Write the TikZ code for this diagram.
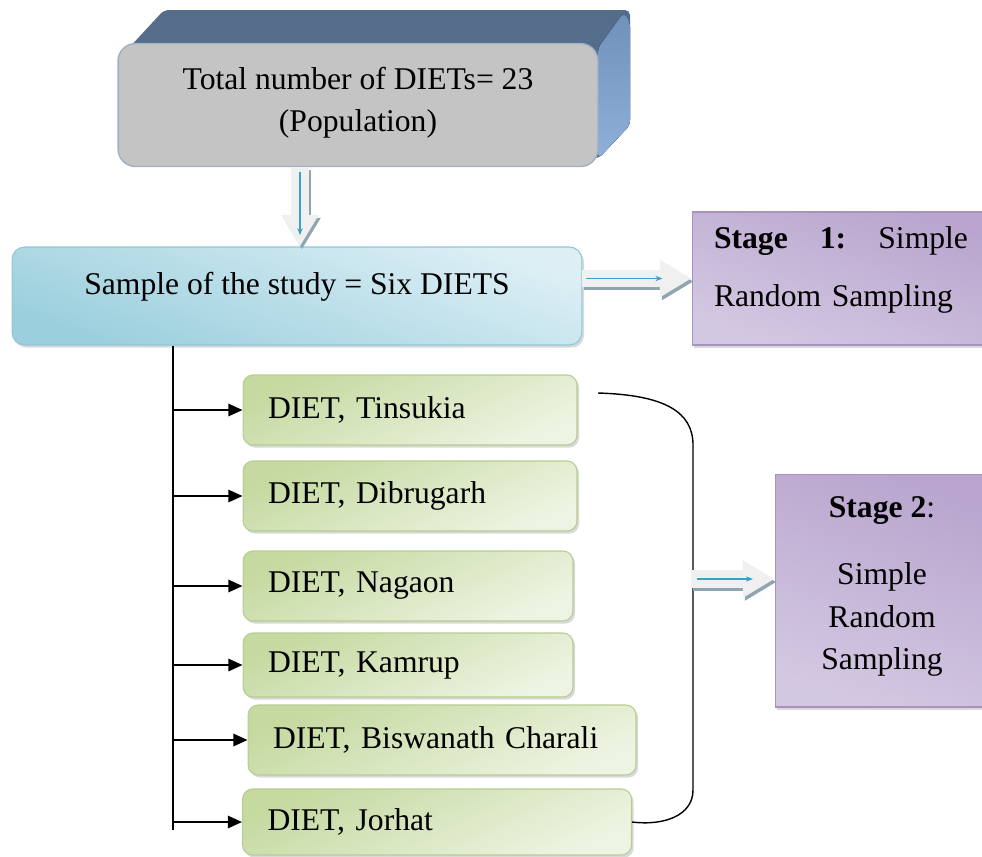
\documentclass[tikz,border=0pt]{standalone}
\usepackage{fontspec}
\setmainfont{Liberation Serif}
\usetikzlibrary{arrows.meta,shadows}

\definecolor{topfront}{HTML}{C4C4C4}
\definecolor{topedge}{HTML}{9FB0C4}
\definecolor{topdark}{HTML}{566C8B}
\definecolor{sideA}{HTML}{6F90BA}
\definecolor{sideB}{HTML}{8FB0D8}
\definecolor{blueA}{HTML}{DDEFF5}
\definecolor{blueB}{HTML}{9BCFDD}
\definecolor{blueedge}{HTML}{8FC7D6}
\definecolor{greenA}{HTML}{C5D9A0}
\definecolor{greenB}{HTML}{EEF4E3}
\definecolor{greenedge}{HTML}{B7CD90}
\definecolor{purpA}{HTML}{B9A5CE}
\definecolor{purpB}{HTML}{EAE5F1}
\definecolor{purpC}{HTML}{D3C8E2}
\definecolor{purpedge}{HTML}{A793BE}
\definecolor{arrowfill}{HTML}{F0F0F0}
\definecolor{arrowshade}{HTML}{8FA5AF}
\definecolor{arrowblue}{HTML}{3AA2C8}

\begin{document}
\begin{tikzpicture}[x=0.02cm,y=-0.02cm,
  every node/.style={font=\fontsize{18}{24}\selectfont},
  sh/.style={drop shadow={shadow xshift=1.2pt,shadow yshift=-1.5pt,opacity=0.3}},
  greenbox/.style={sh,draw=greenedge,line width=0.6pt,rounded corners=0.2cm,
    top color=greenA,bottom color=greenB,shading angle=25,inner xsep=0.5cm,align=left},
  stagebox/.style={sh,draw=purpedge,line width=0.6pt,left color=purpA,
    middle color=purpB,right color=purpC,shading angle=-20},
  fatarrow/.style={line width=10pt,draw=arrowfill,-{Triangle[length=18pt,width=20pt]}},
  fatshadow/.style={fatarrow,draw=arrowshade,transform canvas={shift={(2,3)}}},
  thinarrow/.style={draw=arrowblue,line width=0.6pt,-{Stealth[length=4pt,width=3pt]}},
  link/.style={line width=1.1pt,-{Triangle[length=8pt,width=7pt]}}]
  \useasboundingbox (0,0) rectangle (982,856);

  % 3d block behind the population box
  \fill[topdark,rounded corners=0.1cm] (127,50) -- (164,10) -- (630,10) -- (630,125) -- (598,159) -- cycle;
  \fill[top color=sideA,bottom color=sideB,rounded corners=0.1cm] (598,48) -- (624,12) -- (630,22) -- (630,125) -- (598,159) -- cycle;
  \node[fill=topfront,draw=topedge,line width=0.8pt,rounded corners=0.35cm,
    minimum width=9.6cm,minimum height=2.46cm,align=center] (top) at (358,105)
    {Total number of DIETs= 23\\(Population)\rule[-0.24cm]{0pt}{0pt}};

  \node[sh,draw=blueedge,line width=0.6pt,rounded corners=0.25cm,top color=blueA,
    bottom color=blueB,shading angle=-20,minimum width=11.4cm,minimum height=1.96cm]
    (sample) at (297,296) {Sample of the study = Six DIETS\rule[-0.52cm]{0pt}{0pt}};

  \node[stagebox,text width=5.08cm,inner xsep=0.44cm,minimum height=2.66cm,align=left,
    font=\fontsize{18}{33}\selectfont] (stageone) at (841,278.5)
    {\textbf{Stage}\hfill\textbf{1:}\hfill Simple\\ Random Sampling\rule[-0.48cm]{0pt}{0pt}};
  \node[stagebox,minimum width=4.28cm,minimum height=4.66cm,align=center] (stagetwo) at (882,590.5)
    {\textbf{Stage 2}:\\[0.5cm] Simple\\ Random\\ Sampling\rule[-0.3cm]{0pt}{0pt}};

  % trunk and the six DIETs
  \coordinate (trunkend) at (173,830);
  \draw[line width=0.85pt] (sample.south -| trunkend) -- (trunkend);
  \foreach \n/\cx/\cy/\w/\h/\t in {
    tins/410/410/6.68/1.40/{DIET, Tinsukia},
    dib/410/496/6.68/1.40/{DIET, Dibrugarh},
    nag/408/586/6.60/1.40/{DIET, Nagaon},
    kam/408/665/6.60/1.28/{DIET, Kamrup},
    bis/442/740/7.76/1.40/{DIET, Biswanath Charali},
    jor/437/822/7.78/1.32/{DIET, Jorhat}}{
    \pgfmathsetmacro\tw{\w-1}
    \node[greenbox,text width=\tw cm,minimum height=\h cm] (\n) at (\cx,\cy) {\t};
    \draw[link] (\n.west -| trunkend) -- (\n.west);
  }

  % bracket round the six DIETs
  \coordinate (brtop) at (598,393);
  \coordinate (brmid) at (691,579);
  \draw[line width=0.8pt] (brtop) .. controls (665,395) and (693,412) .. (693,445)
    -- (693,790) .. controls (693,815) and (665,826) .. (jor.east);

  % block arrows
  \coordinate (dnx) at (300,0);
  \draw[fatshadow] (top.south -| dnx) -- (sample.north -| dnx);
  \draw[fatarrow] (top.south -| dnx) -- (sample.north -| dnx);
  \draw[thinarrow] (top.south -| dnx) ++(0,5) -- ++(0,63);
  \draw[fatshadow] (sample.east |- stageone.west) -- (stageone.west);
  \draw[fatarrow] (sample.east |- stageone.west) -- (stageone.west);
  \draw[thinarrow] (sample.east |- stageone.west) ++(4,0) -- ++(76,0);
  \draw[fatshadow] (brmid) -- (stagetwo.west |- brmid);
  \draw[fatarrow] (brmid) -- (stagetwo.west |- brmid);
  \draw[thinarrow] (brmid) ++(6,0) -- ++(56,0);
\end{tikzpicture}
\end{document}
